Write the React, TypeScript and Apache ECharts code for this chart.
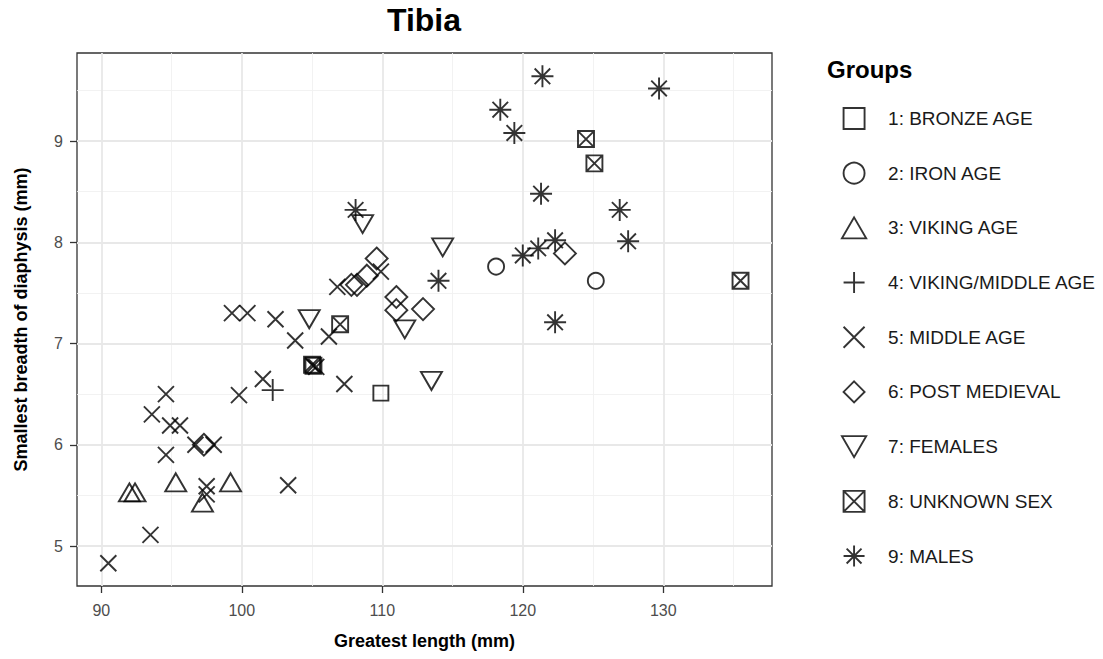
import React, { useEffect, useRef } from "react";
import * as echarts from "echarts";

// ---------- data ----------
const groupNames = [
  "1: BRONZE AGE",
  "2: IRON AGE",
  "3: VIKING AGE",
  "4: VIKING/MIDDLE AGE",
  "5: MIDDLE AGE",
  "6: POST MEDIEVAL",
  "7: FEMALES",
  "8: UNKNOWN SEX",
  "9: MALES",
];

// [greatest length (mm), smallest breadth of diaphysis (mm)]
const bronzeAge = [[109.9, 6.51]];
const ironAge = [[118.1, 7.76], [125.2, 7.62]];
const vikingAge = [[92.0, 5.5], [92.4, 5.5], [95.3, 5.6], [97.2, 5.4], [99.2, 5.6]];
const vikingMiddleAge = [[102.2, 6.54]];
const middleAge = [
  [90.5, 4.83], [93.5, 5.11], [93.6, 6.3], [94.6, 6.5], [94.9, 6.19], [95.6, 6.19],
  [94.6, 5.9], [96.7, 6.0], [98.0, 6.0], [97.5, 5.59], [97.5, 5.51], [99.8, 6.49],
  [101.5, 6.65], [99.3, 7.3], [100.4, 7.3], [102.4, 7.24], [103.8, 7.03], [106.2, 7.07],
  [105.3, 6.77], [107.3, 6.6], [103.3, 5.6], [106.8, 7.56], [109.9, 7.71],
];
const postMedieval = [
  [97.3, 6.0], [107.8, 7.58], [108.2, 7.58], [108.9, 7.67], [109.6, 7.84],
  [111.0, 7.46], [111.0, 7.33], [112.9, 7.34], [123.0, 7.89],
];
const females = [[104.8, 7.27], [108.6, 8.21], [111.6, 7.17], [113.5, 6.66], [114.3, 7.98]];
const unknownSex = [[105.0, 6.79], [105.1, 6.78], [107.0, 7.19], [124.5, 9.02], [125.1, 8.78], [135.5, 7.62]];
const males = [
  [108.1, 8.32], [114.0, 7.62], [118.4, 9.31], [119.4, 9.08], [121.4, 9.64], [121.3, 8.48],
  [120.0, 7.87], [121.1, 7.94], [122.3, 8.02], [122.3, 7.21], [126.9, 8.32], [127.5, 8.01],
  [129.7, 9.52],
];

const xTicks = [90, 100, 110, 120, 130];
const xMinorTicks = [95, 105, 115, 125, 135];
const yTicks = [5, 6, 7, 8, 9];
const yMinorTicks = [5.5, 6.5, 7.5, 8.5, 9.5];
const xRange = [88.27, 137.74];
const yRange = [4.605, 9.87];

// ---------- styling ----------
const FONT = "'Liberation Sans', Arial, Helvetica, sans-serif";
const RECT = "path://M0,0L10,0L10,10L0,10Z";
const DIAMOND = "path://M5,0L10,5L5,10L0,5Z";
const TRI_UP = "path://M5,0L10,8.66L0,8.66Z";
const TRI_DOWN = "path://M0,0L10,0L5,8.66Z";
const PLUS = "path://M5,0L5,10M0,5L10,5";
const CROSS = "path://M0,0L10,10M10,0L0,10";
const BOXX = "path://M0,0L10,0L10,10L0,10ZM0,0L10,10M10,0L0,10";
const STAR = "path://M5,0L5,10M0,5L10,5M1.46,1.46L8.54,8.54M8.54,1.46L1.46,8.54";

const groupData = [bronzeAge, ironAge, vikingAge, vikingMiddleAge, middleAge, postMedieval, females, unknownSex, males];
const groupSymbols: any[] = [
  { symbol: RECT, size: 15 },
  { symbol: "circle", size: 16 },
  { symbol: TRI_UP, size: [21, 18], offset: [0, -3] },
  { symbol: PLUS, size: 22 },
  { symbol: CROSS, size: 16 },
  { symbol: DIAMOND, size: 22 },
  { symbol: TRI_DOWN, size: [21, 18], offset: [0, 3] },
  { symbol: BOXX, size: 16 },
  { symbol: STAR, size: 22 },
];

export default function App() {
  const ref = useRef<HTMLDivElement>(null);
  useEffect(() => {
    if (!ref.current) return;
    const chart = echarts.init(ref.current, undefined, { renderer: "svg" });

    const majorStyle = { color: "#e8e8e8", width: 1.8, type: "solid" };
    const minorStyle = { color: "#f0f0f0", width: 0.9, type: "solid" };
    const gridLines = [
      ...xMinorTicks.map((v) => ({ xAxis: v, lineStyle: minorStyle })),
      ...yMinorTicks.map((v) => ({ yAxis: v, lineStyle: minorStyle })),
      ...xTicks.map((v) => ({ xAxis: v, lineStyle: majorStyle })),
      ...yTicks.map((v) => ({ yAxis: v, lineStyle: majorStyle })),
    ];

    const series: any[] = groupNames.map((name, i) => {
      const s: any = {
        type: "scatter",
        name,
        data: groupData[i],
        symbol: groupSymbols[i].symbol,
        symbolSize: groupSymbols[i].size,
        symbolOffset: groupSymbols[i].offset || [0, 0],
        z: 3,
        silent: true,
        emphasis: { disabled: true },
        itemStyle: { color: "rgba(0,0,0,0)", borderColor: "#000", borderWidth: 1.9 },
      };
      if (i === 0) {
        s.markLine = {
          silent: true,
          symbol: ["none", "none"],
          label: { show: false },
          animation: false,
          z: 1,
          data: gridLines,
        };
      }
      return s;
    });

    chart.setOption({
      animation: false,
      backgroundColor: "#fff",
      textStyle: { fontFamily: FONT },
      grid: {
        left: 77,
        top: 53,
        right: 331,
        bottom: 73,
        show: true,
        borderColor: "#333",
        borderWidth: 1.3,
        backgroundColor: "#fff",
        containLabel: false,
      },
      xAxis: {
        type: "value",
        min: xRange[0],
        max: xRange[1],
        name: "Greatest length (mm)",
        nameLocation: "middle",
        nameGap: 46,
        nameTextStyle: { fontSize: 18, fontWeight: "bold", color: "#000", fontFamily: FONT },
        axisLine: { show: false },
        splitLine: { show: false },
        axisTick: { show: true, length: 7, customValues: xTicks, lineStyle: { color: "#333", width: 1.3 } },
        axisLabel: { customValues: xTicks, fontSize: 16, color: "#4d4d4d", margin: 16, fontFamily: FONT },
      },
      yAxis: {
        type: "value",
        min: yRange[0],
        max: yRange[1],
        name: "Smallest breadth of diaphysis (mm)",
        nameLocation: "middle",
        nameRotate: 90,
        nameGap: 47,
        nameTextStyle: { fontSize: 18, fontWeight: "bold", color: "#000", fontFamily: FONT },
        axisLine: { show: false },
        splitLine: { show: false },
        axisTick: { show: true, length: 7, customValues: yTicks, lineStyle: { color: "#333", width: 1.3 } },
        axisLabel: { customValues: yTicks, fontSize: 16, color: "#4d4d4d", margin: 14, fontFamily: FONT },
      },
      legend: {
        data: groupNames,
        orient: "vertical",
        align: "left",
        left: 841,
        top: 107,
        padding: 0,
        itemWidth: 58,
        itemHeight: 21,
        itemGap: 31.8,
        selectedMode: false,
        symbolKeepAspect: true,
        itemStyle: { borderWidth: 1.9, borderColor: "#000", color: "rgba(0,0,0,0)" },
        textStyle: { fontSize: 19, color: "#1a1a1a", fontFamily: FONT, width: 190, overflow: "none" },
      },
      graphic: [
        {
          type: "text",
          x: 424,
          y: 20,
          style: { text: "Tibia", align: "center", verticalAlign: "middle", fill: "#000", font: `bold 32px ${FONT}` },
        },
        {
          type: "text",
          x: 827,
          y: 69,
          style: { text: "Groups", align: "left", verticalAlign: "middle", fill: "#000", font: `bold 24px ${FONT}` },
        },
      ],
      series,
    });

    return () => chart.dispose();
  }, []);

  return (
    <div
      ref={ref}
      style={{ position: "fixed", left: 0, top: 0, width: 1103, height: 659, background: "#fff" }}
    />
  );
}
